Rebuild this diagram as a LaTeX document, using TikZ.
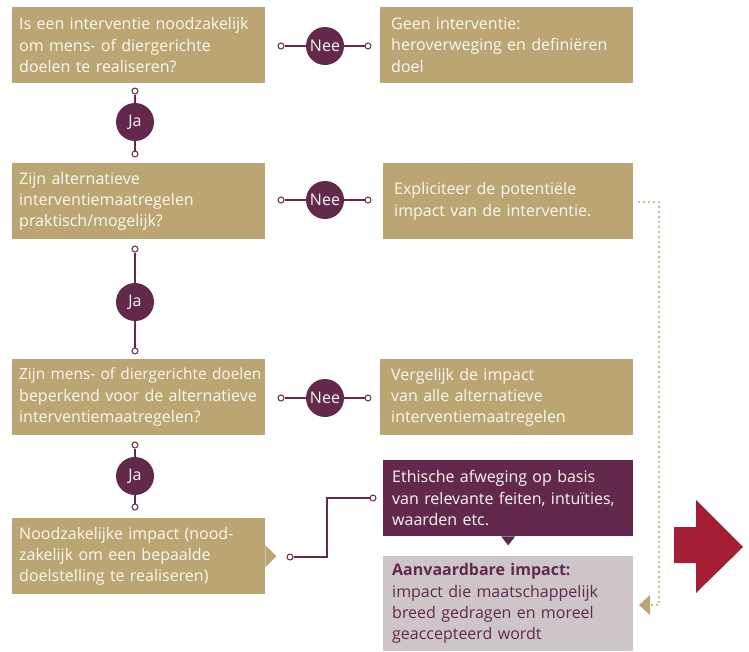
\documentclass[tikz,border=0pt]{standalone}
\usepackage{fontspec}
\setmainfont{Open Sans}
\definecolor{tan}{HTML}{BBA673}
\definecolor{plum}{HTML}{62294D}
\definecolor{crim}{HTML}{A41E36}
\definecolor{mist}{HTML}{CEC5C9}
\definecolor{cream}{HTML}{FBF8F1}
\begin{document}
\begin{tikzpicture}[x=1pt,y=-1pt,
  font=\fontsize{16}{21.3}\selectfont,
  tanbox/.style={fill=tan, text=cream, anchor=north west, align=left,
    inner ysep=0pt, minimum height=76pt, inner xsep=11pt, text width=231pt},
  tanboxl/.style={tanbox, inner xsep=7pt, text width=239pt},
  endpt/.style={circle, draw=plum, fill=white, line width=1pt, inner sep=0pt, minimum size=6pt},
  lbl/.style={circle, fill=plum, text=cream, minimum size=38pt, inner sep=0pt},
  conn/.style={draw=plum, line width=1.1pt},
  dotline/.style={draw=tan, line width=2.4pt, line cap=round, dash pattern=on 0pt off 5pt}
  ]
\useasboundingbox (0,0) rectangle (749,651);

% left column boxes
\node[tanboxl] (q1) at (12,7) {Is een interventie noodzakelijk\\om mens- of diergerichte\\doelen te realiseren?};
\node[tanboxl] (q2) at (12,163) {Zijn alternatieve\\interventiemaatregelen\\praktisch/mogelijk?};
\node[tanboxl] (q3) at (12,359) {\mbox{\fontsize{15.4}{21.3}\selectfont Zijn mens- of diergerichte doelen}\\beperkend voor de alternatieve\\interventiemaatregelen?};
\node[tanboxl] (q4) at (12,518) {Noodzakelijke impact (nood-\\zakelijk om een bepaalde\\doelstelling te realiseren)};
\fill[tan] (q4.east) ++(0,-11) -- ++(11,11) -- ++(-11,11) -- cycle;

% right column boxes
\node[tanbox] (r1) at (380,7) {Geen interventie:\\heroverweging en definiëren\\doel};
\node[tanbox, text width=228pt] (r2) at (383,163) {Expliciteer de potentiële\\impact van de interventie.};
\node[tanbox] (r3) at (380,359) {Vergelijk de impact\\van alle alternatieve\\interventiemaatregelen};
\node[tanbox, fill=plum, inner xsep=9pt, text width=232pt] (r4) at (383,460) {Ethische afweging op basis\\van relevante feiten, intuïties,\\waarden etc.};
\fill[plum] (r4.south) ++(-7,0) -- ++(7,9) -- ++(7,-9) -- cycle;
\node[tanbox, fill=mist, text=plum, inner xsep=9pt, text width=232pt, minimum height=95pt] (r5) at (383,556) {\textbf{Aanvaardbare impact:}\\impact die maatschappelijk\\breed gedragen en moreel\\geaccepteerd wordt};

% Nee connectors
\foreach \i/\y in {1/46,2/200,3/398}{
  \node[endpt] (n\i a) at (281,\y) {};
  \node[lbl] (nee\i) at (325,\y) {Nee};
  \node[endpt] (n\i b) at (368,\y) {};
  \draw[conn] (n\i a) -- (nee\i) -- (n\i b);
}

% Ja connectors
\foreach \i/\ya/\yc/\yb in {1/91/122/154,2/249/302/351,3/445/476/507}{
  \node[endpt] (j\i a) at (135,\ya) {};
  \node[lbl] (ja\i) at (135,\yc) {Ja};
  \node[endpt] (j\i b) at (135,\yb) {};
  \draw[conn] (j\i a) -- (ja\i) -- (j\i b);
}

% connector to ethics box
\node[endpt] (e1) at (290,557) {};
\node[endpt] (e2) at (373,498) {};
\draw[conn] (e1) -- (327,557) |- (e2);

% dotted feedback line
\coordinate (d0) at (639,202);
\coordinate (d1) at (659,202);
\coordinate (d2) at (659,605);
\coordinate (d3) at (652,605);
\draw[dotline] (d0) -- (d1) -- (d2) -- (d3);
\fill[tan] (650,595) -- (639,605) -- (650,615) -- cycle;

% big red arrow
\fill[crim] (674,527) -- (696,527) -- (696,500) -- (743,547) -- (696,593) -- (696,563) -- (674,563) -- cycle;
\end{tikzpicture}
\end{document}
